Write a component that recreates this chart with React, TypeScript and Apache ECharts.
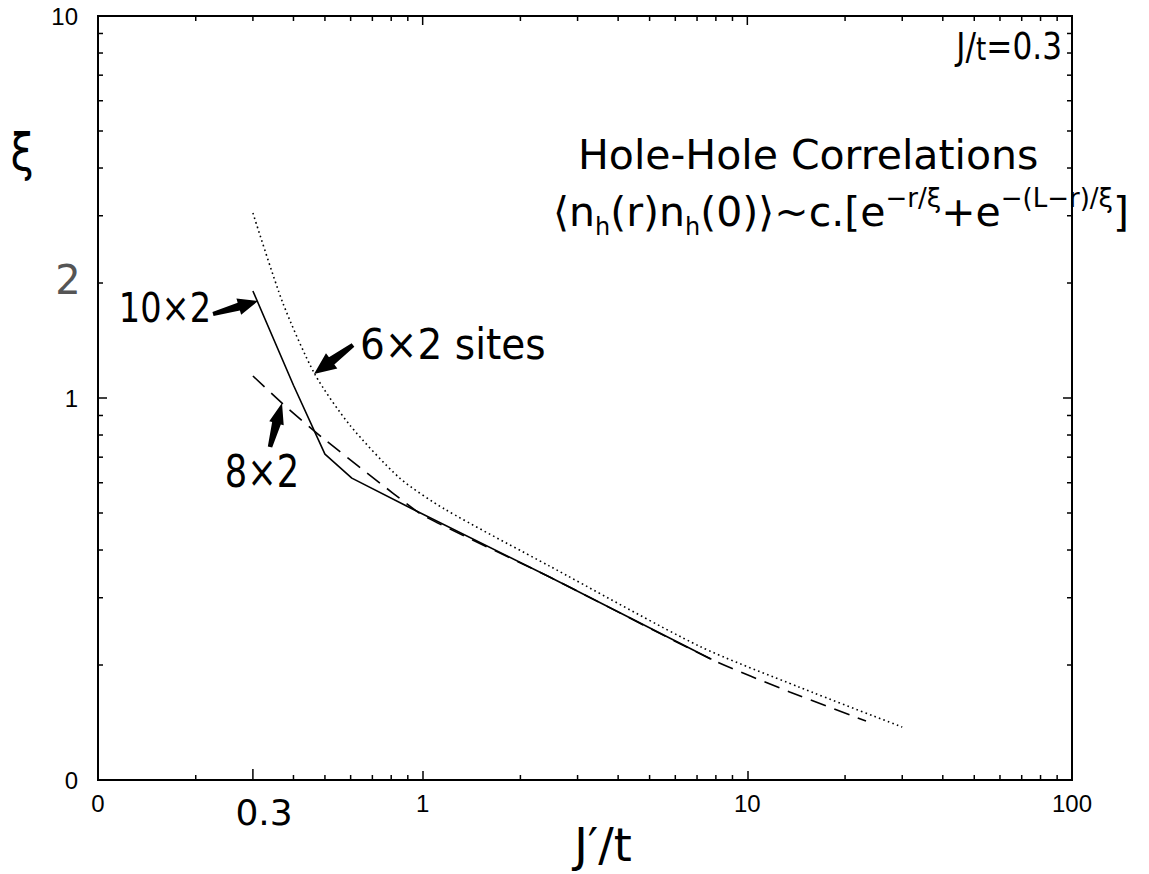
import React, { useEffect, useRef } from 'react';
import * as echarts from 'echarts';

// J'/t values and correlation length xi for each cluster
const J_10x2 = [0.3, 0.4, 0.5, 0.605, 0.93, 2.46, 7.75];
const XI_10x2 = [1.906, 1.08, 0.713, 0.617, 0.512, 0.34, 0.207];

const J_8x2 = [0.3, 0.371, 0.492, 0.809, 1.01, 2.46, 7.75, 13.5, 23.2];
const XI_8x2 = [1.142, 0.965, 0.786, 0.564, 0.491, 0.34, 0.207, 0.17, 0.1427];

const J_6x2 = [0.3, 0.371, 0.465, 0.596, 0.85, 1.168, 2.46, 7.12, 14.45, 30];
const XI_6x2 = [3.05, 1.773, 1.156, 0.85, 0.617, 0.512, 0.363, 0.224, 0.175, 0.1376];

// axis decorations
const X_MINOR_TICKS = [0.2, 0.3, 0.4, 0.5, 0.6, 0.7, 0.8, 0.9, 2, 3, 4, 5, 6, 7, 8, 9, 20, 30, 40, 50, 60, 70, 80, 90];
const Y_MINOR_TICKS = [0.2, 0.3, 0.4, 0.5, 0.6, 0.7, 0.8, 0.9, 2, 3, 4, 5, 6, 7, 8, 9];
const MAJOR_X = [1, 10];
const MAJOR_Y = [1];

const HAND = '"DejaVu Sans", sans-serif';
const HELV = '"Liberation Sans", Arial, sans-serif';

function zip(a: number[], b: number[]) {
  return a.map((v, i) => [v, b[i]]);
}

function arrowPts(tail: number[], tip: number[], shaftW: number, headLen: number, headW: number) {
  const dx = tip[0] - tail[0];
  const dy = tip[1] - tail[1];
  const L = Math.hypot(dx, dy);
  const ux = dx / L, uy = dy / L;
  const nx = -uy, ny = ux;
  const bx = tip[0] - ux * headLen, by = tip[1] - uy * headLen;
  const w0 = shaftW * 0.25, w1 = shaftW / 2, hw = headW / 2;
  return [
    [tail[0] + nx * w0, tail[1] + ny * w0],
    [bx + nx * w1, by + ny * w1],
    [bx + nx * hw, by + ny * hw],
    [tip[0], tip[1]],
    [bx - nx * hw, by - ny * hw],
    [bx - nx * w1, by - ny * w1],
    [tail[0] - nx * w0, tail[1] - ny * w0],
  ];
}

export default function App() {
  const ref = useRef<HTMLDivElement>(null);
  useEffect(() => {
    document.body.style.margin = '0';
    if (!ref.current) return;
    const chart = echarts.init(ref.current, null, { renderer: 'svg' });

    const fmt = (v: number) => (Math.abs(v - 0.1) < 1e-9 ? '0' : String(Math.round(v)));

    const tickStyle = { stroke: '#000', lineWidth: 1.5 };

    const option: any = {
      animation: false,
      backgroundColor: '#fff',
      grid: { left: 98, top: 16, width: 974, height: 764, show: true, borderColor: '#000', borderWidth: 2 },
      xAxis: {
        type: 'log', logBase: 10, min: 0.1, max: 100,
        axisLine: { lineStyle: { color: '#000', width: 2 } },
        axisTick: { inside: true, length: 9, lineStyle: { color: '#000', width: 1.5 } },
        axisLabel: { formatter: fmt, fontFamily: HELV, fontSize: 24, color: '#000', margin: 11 },
        splitLine: { show: false },
      },
      yAxis: {
        type: 'log', logBase: 10, min: 0.1, max: 10,
        axisLine: { lineStyle: { color: '#000', width: 2 } },
        axisTick: { inside: true, length: 9, lineStyle: { color: '#000', width: 1.5 } },
        axisLabel: { formatter: fmt, fontFamily: HELV, fontSize: 24, color: '#000', margin: 20 },
        splitLine: { show: false },
      },
      series: [
        {
          name: '6x2', type: 'line', showSymbol: false, smooth: 0.25,
          data: zip(J_6x2, XI_6x2),
          lineStyle: { color: '#000', width: 1.6, type: [1.6, 3.2] },
        },
        {
          name: '8x2', type: 'line', showSymbol: false, smooth: 0.2,
          data: zip(J_8x2, XI_8x2),
          lineStyle: { color: '#000', width: 1.6, type: [16, 9] },
        },
        {
          name: '10x2', type: 'line', showSymbol: false,
          data: zip(J_10x2, XI_10x2),
          lineStyle: { color: '#000', width: 1.6 },
        },
        {
          name: 'xticks', type: 'custom', silent: true, clip: false,
          data: X_MINOR_TICKS.map((v) => [v, 1, 0]).concat(MAJOR_X.map((v) => [v, 1, 1])),
          renderItem: (params: any, api: any) => {
            const v = api.value(0);
            const major = api.value(2) === 1;
            const b = api.coord([v, 0.1]);
            const t = api.coord([v, 10]);
            const lb = major ? 0 : Math.abs(v - 0.3) < 1e-9 ? 11 : 5;
            const lt = major ? 9 : 5;
            const children: any[] = [
              { type: 'line', shape: { x1: t[0], y1: t[1], x2: t[0], y2: t[1] + lt }, style: tickStyle },
            ];
            if (lb > 0) children.push({ type: 'line', shape: { x1: b[0], y1: b[1], x2: b[0], y2: b[1] - lb }, style: tickStyle });
            return { type: 'group', children };
          },
        },
        {
          name: 'yticks', type: 'custom', silent: true, clip: false,
          data: Y_MINOR_TICKS.map((v) => [1, v, 0]).concat(MAJOR_Y.map((v) => [1, v, 1])),
          renderItem: (params: any, api: any) => {
            const v = api.value(1);
            const major = api.value(2) === 1;
            const l = api.coord([0.1, v]);
            const r = api.coord([100, v]);
            const ll = major ? 0 : 5;
            const lr = major ? 9 : 5;
            const children: any[] = [
              { type: 'line', shape: { x1: r[0], y1: r[1], x2: r[0] - lr, y2: r[1] }, style: tickStyle },
            ];
            if (ll > 0) children.push({ type: 'line', shape: { x1: l[0], y1: l[1], x2: l[0] + ll, y2: l[1] }, style: tickStyle });
            return { type: 'group', children };
          },
        },
      ],
      graphic: [
        // axis titles and hand-written labels
        { type: 'text', x: 22, y: 152, scaleX: 0.8, style: { text: 'ξ', fontFamily: HAND, fontSize: 52, fill: '#000', align: 'center', verticalAlign: 'middle' } },
        { type: 'text', x: 68, y: 280, style: { text: '2', fontFamily: HAND, fontSize: 40, fill: '#555', align: 'center', verticalAlign: 'middle' } },
        { type: 'text', x: 264, y: 812, style: { text: '0.3', fontFamily: HAND, fontSize: 36, fill: '#000', align: 'center', verticalAlign: 'middle' } },
        {
          type: 'text', x: 603, y: 845,
          style: {
            text: '{a|J}{p|′}{a|/t}',
            rich: {
              a: { fontFamily: HAND, fontSize: 46, fill: '#000', verticalAlign: 'bottom' },
              p: { fontFamily: HAND, fontSize: 46, fill: '#000', verticalAlign: 'top' },
            },
            align: 'center', verticalAlign: 'middle',
          },
        },
        {
          type: 'text', x: 1062, y: 46, scaleX: 0.82,
          style: {
            text: '{a|J/}{s|t}{a|=0.3}',
            rich: {
              a: { fontFamily: HAND, fontSize: 38, fill: '#000' },
              s: { fontFamily: HAND, fontSize: 32, fill: '#000', verticalAlign: 'bottom' },
            },
            align: 'right', verticalAlign: 'middle',
          },
        },
        { type: 'text', x: 578, y: 155, style: { text: 'Hole-Hole Correlations', fontFamily: HAND, fontSize: 41, fill: '#000', align: 'left', verticalAlign: 'middle' } },
        {
          type: 'text', x: 553, y: 212,
          style: {
            text: '{n|⟨n}{sub|h}{n|(r)n}{sub|h}{n|(0)⟩~c.[e}{sup|−r/ξ}{n|+e}{sup|−(L−r)/ξ}{n|]}',
            rich: {
              n: { fontFamily: HAND, fontSize: 41, fill: '#000', lineHeight: 54, verticalAlign: 'middle' },
              sub: { fontFamily: HAND, fontSize: 24, fill: '#000', lineHeight: 54, verticalAlign: 'bottom' },
              sup: { fontFamily: HAND, fontSize: 26, fill: '#000', lineHeight: 54, verticalAlign: 'top' },
            },
            align: 'left', verticalAlign: 'middle',
          },
        },
        { type: 'text', x: 360, y: 345, scaleX: 0.93, style: { text: '6×2 sites', fontFamily: HAND, fontSize: 42, fill: '#000', align: 'left', verticalAlign: 'middle' } },
        { type: 'text', x: 165, y: 308, scaleX: 0.82, style: { text: '10×2', fontFamily: HAND, fontSize: 41, fill: '#000', align: 'center', verticalAlign: 'middle' } },
        { type: 'text', x: 262, y: 472, scaleX: 0.8, style: { text: '8×2', fontFamily: HAND, fontSize: 44, fill: '#000', align: 'center', verticalAlign: 'middle' } },
        // arrows
        { type: 'polygon', shape: { points: arrowPts([213, 314], [258, 301], 8, 20, 17) }, style: { fill: '#000' } },
        { type: 'polygon', shape: { points: arrowPts([353, 345], [314, 374], 9, 22, 19) }, style: { fill: '#000' } },
        { type: 'polygon', shape: { points: arrowPts([270, 447], [282, 403], 9, 21, 15) }, style: { fill: '#000' } },
      ],
    };
    chart.setOption(option);
    return () => chart.dispose();
  }, []);
  return <div ref={ref} style={{ width: 1149, height: 874 }} />;
}
